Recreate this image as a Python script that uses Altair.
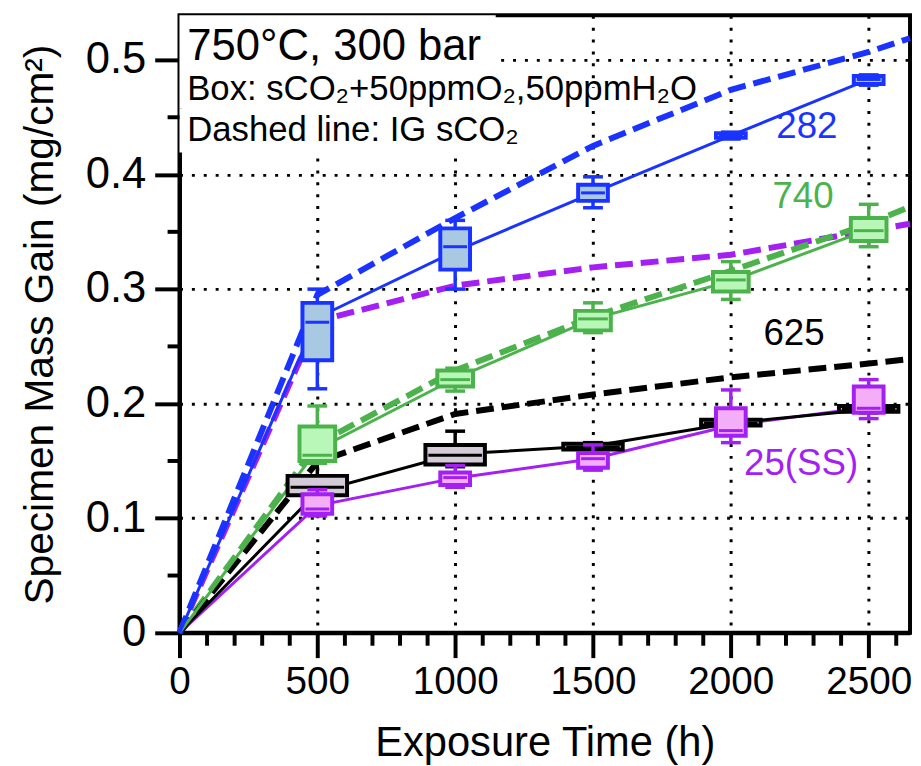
import altair as alt
import pandas as pd

FONT = "Liberation Sans"

# ---------------- data ----------------
series = ["282", "740", "625", "25(SS)"]
colors = ["#1a33ff", "#4cb34c", "#000000", "#a31ff2"]
fills = ["#a9c9e2", "#b9f7b9", "#d4cad8", "#f3aef7"]
box_width = [30, 36, 60, 30]
median_width = [24, 30, 54, 24]

times = [500, 1000, 1500, 2000, 2500]

# box statistics (whisker low, q1, median, q3, whisker high)
b282_wlo = [0.213, 0.300, 0.371, 0.431, 0.478]
b282_q1 = [0.238, 0.317, 0.377, 0.432, 0.479]
b282_med = [0.271, 0.337, 0.384, 0.434, 0.483]
b282_q3 = [0.288, 0.353, 0.391, 0.436, 0.486]
b282_whi = [0.300, 0.360, 0.398, 0.437, 0.487]

b740_wlo = [0.148, 0.211, 0.262, 0.291, 0.337]
b740_q1 = [0.150, 0.215, 0.264, 0.298, 0.342]
b740_med = [0.155, 0.221, 0.274, 0.308, 0.351]
b740_q3 = [0.180, 0.229, 0.281, 0.315, 0.362]
b740_whi = [0.198, 0.231, 0.288, 0.324, 0.374]

b625_wlo = [0.117, 0.145, 0.158, 0.180, 0.192]
b625_q1 = [0.120, 0.147, 0.160, 0.181, 0.193]
b625_med = [0.127, 0.155, 0.162, 0.183, 0.195]
b625_q3 = [0.137, 0.164, 0.165, 0.186, 0.198]
b625_whi = [0.150, 0.176, 0.166, 0.187, 0.199]

b25_wlo = [0.102, 0.127, 0.142, 0.166, 0.187]
b25_q1 = [0.104, 0.129, 0.144, 0.172, 0.192]
b25_med = [0.108, 0.1355, 0.152, 0.1765, 0.196]
b25_q3 = [0.121, 0.140, 0.157, 0.196, 0.215]
b25_whi = [0.125, 0.146, 0.164, 0.212, 0.221]

# solid connecting lines (start at origin)
line_times = [0, 500, 1000, 1500, 2000, 2500]
line_282 = [0, 0.275, 0.333, 0.384, 0.434, 0.483]
line_740 = [0, 0.160, 0.222, 0.274, 0.307, 0.352]
line_625 = [0, 0.123, 0.156, 0.163, 0.183, 0.195]
line_25 = [0, 0.111, 0.135, 0.152, 0.181, 0.197]

# dashed lines: IG sCO2
dash_times = [0, 500, 1000, 1500, 2000, 2500, 2650]
dash_282 = [0, 0.295, 0.362, 0.425, 0.474, 0.507, 0.519]
dash_740 = [0, 0.165, 0.229, 0.276, 0.316, 0.357, 0.372]
dash_625 = [0, 0.149, 0.191, 0.208, 0.223, 0.235, 0.239]
dash_25 = [0, 0.272, 0.303, 0.319, 0.330, 0.351, 0.357]

# axis ticks
x_major = [0, 500, 1000, 1500, 2000, 2500]
x_minor = [100, 200, 300, 400, 600, 700, 800, 900, 1100, 1200, 1300, 1400,
           1600, 1700, 1800, 1900, 2100, 2200, 2300, 2400, 2600]
y_major = [0, 0.1, 0.2, 0.3, 0.4, 0.5]
y_minor = [0.05, 0.15, 0.25, 0.35, 0.45]

# annotations
header_text = ["750°C, 300 bar", "Box: sCO₂+50ppmO₂,50ppmH₂O", "Dashed line: IG sCO₂"]
header_x = [28, 28, 28]
header_y = [0.4997, 0.4652, 0.4289]
# opaque text-box extents behind the header lines (data units)
header_bg_x2 = [1147, 1909, 1363]
header_bg_ytop = [0.539, 0.4756, 0.4574]
header_bg_ybot = [0.4756, 0.4574, 0.4193]
label_x = [2276, 2262, 2229, 2255]
label_y = [0.4418, 0.3804, 0.2611, 0.147]

# ---------------- scales / axes ----------------
xs = alt.Scale(domain=[0, 2650], nice=False, zero=False, padding=0)
ys = alt.Scale(domain=[0, 0.539], nice=False, zero=False, padding=0)

xaxis = alt.Axis(values=x_major, format="d", tickSize=25, tickWidth=4, tickColor="black",
                 labelFontSize=39, labelFont=FONT, labelColor="black", labelPadding=5,
                 labelFlush=False, labelOverlap=False,
                 domainColor="black", domainWidth=4,
                 grid=True, gridColor="black", gridDash=[3, 9], gridWidth=3, gridOpacity=1,
                 titleFontSize=42, titleFont=FONT, titleFontWeight="normal", titleColor="black",
                 titlePadding=22)
yaxis = alt.Axis(values=y_major, labelExpr="datum.value == 0 ? '0' : format(datum.value, '.1f')",
                 tickSize=25, tickWidth=4, tickColor="black",
                 labelFontSize=44, labelFont=FONT, labelColor="black", labelPadding=9,
                 labelFlush=False, labelOverlap=False,
                 domainColor="black", domainWidth=4,
                 grid=True, gridColor="black", gridDash=[3, 9], gridWidth=3, gridOpacity=1,
                 titleFontSize=41, titleFont=FONT, titleFontWeight="normal", titleColor="black",
                 titlePadding=24)


def X(field):
    return alt.X(f"{field}:Q", scale=xs, axis=xaxis, title="Exposure Time (h)")


def Y(field):
    return alt.Y(f"{field}:Q", scale=ys, axis=yaxis, title="Specimen Mass Gain (mg/cm²)")


box_stats = {
    "282": (b282_wlo, b282_q1, b282_med, b282_q3, b282_whi),
    "740": (b740_wlo, b740_q1, b740_med, b740_q3, b740_whi),
    "625": (b625_wlo, b625_q1, b625_med, b625_q3, b625_whi),
    "25(SS)": (b25_wlo, b25_q1, b25_med, b25_q3, b25_whi),
}
lines = {"282": line_282, "740": line_740, "625": line_625, "25(SS)": line_25}
dashes = {"282": dash_282, "740": dash_740, "625": dash_625, "25(SS)": dash_25}
style = {s: (c, f, bw, mw) for s, c, f, bw, mw in zip(series, colors, fills, box_width, median_width)}

layers = []

# white backgrounds of the header text boxes
bgdf = pd.DataFrame({"x1": [0, 0, 0], "x2": header_bg_x2, "y1": header_bg_ybot, "y2": header_bg_ytop})
layers.append(alt.Chart(bgdf).mark_rect(color="white", opacity=1)
              .encode(x=X("x1"), x2=alt.X2("x2:Q"), y=Y("y1"), y2=alt.Y2("y2:Q")))

# dashed lines
for s in ["25(SS)", "740", "625", "282"]:
    df = pd.DataFrame({"t": dash_times, "v": dashes[s]})
    layers.append(alt.Chart(df).mark_line(color=style[s][0], strokeWidth=6, strokeDash=[18, 8])
                  .encode(x=X("t"), y=Y("v")))

# solid lines
for s in ["25(SS)", "625", "740", "282"]:
    df = pd.DataFrame({"t": line_times, "v": lines[s]})
    layers.append(alt.Chart(df).mark_line(color=style[s][0], strokeWidth=3)
                  .encode(x=X("t"), y=Y("v")))

# boxes
for s in ["625", "25(SS)", "740", "282"]:
    wlo, q1, med, q3, whi = box_stats[s]
    c, f, bw, mw = style[s]
    df = pd.DataFrame({"t": times, "wlo": wlo, "q1": q1, "med": med, "q3": q3, "whi": whi})
    base = alt.Chart(df)
    layers.append(base.mark_rule(color=c, strokeWidth=3.5)
                  .encode(x=X("t"), y=Y("wlo"), y2=alt.Y2("whi:Q")))
    layers.append(base.transform_fold(["wlo", "whi"], as_=["k", "cap"])
                  .mark_tick(color=c, orient="horizontal", size=20, thickness=3.5, opacity=1)
                  .encode(x=X("t"), y=Y("cap")))
    layers.append(base.mark_bar(size=bw, fill=f, stroke=c, strokeWidth=4)
                  .encode(x=X("t"), y=Y("q1"), y2=alt.Y2("q3:Q")))
    layers.append(base.mark_tick(color=c, orient="horizontal", size=mw, thickness=3, opacity=1)
                  .encode(x=X("t"), y=Y("med")))

# minor ticks
mx = pd.DataFrame({"mx": x_minor})
layers.append(alt.Chart(mx).mark_rule(color="black", strokeWidth=4)
              .encode(x=X("mx"), y=alt.value(623), y2=alt.value(636)))
my = pd.DataFrame({"my": y_minor})
layers.append(alt.Chart(my).mark_rule(color="black", strokeWidth=4)
              .encode(y=Y("my"), x=alt.value(0), x2=alt.value(-12)))

# header text
hdf = pd.DataFrame({"x": header_x, "y": header_y, "txt": header_text})
layers.append(alt.Chart(hdf.iloc[[0]]).mark_text(align="left", baseline="alphabetic", fontSize=44,
                                                  font=FONT, color="black")
              .encode(x=X("x"), y=Y("y"), text="txt:N"))
layers.append(alt.Chart(hdf.iloc[1:]).mark_text(align="left", baseline="alphabetic", fontSize=35,
                                                font=FONT, color="black")
              .encode(x=X("x"), y=Y("y"), text="txt:N"))

# series labels
for s, lx, ly in zip(series, label_x, label_y):
    ldf = pd.DataFrame({"x": [lx], "y": [ly], "txt": [s]})
    layers.append(alt.Chart(ldf).mark_text(align="center", baseline="middle", fontSize=37,
                                           font=FONT, color=style[s][0])
                  .encode(x=X("x"), y=Y("y"), text="txt:N"))

chart = alt.layer(*layers).properties(
    width=737, height=623,
    background="white",
    padding={"left": 173, "top": 4, "right": 3, "bottom": 131},
    autosize=alt.AutoSizeParams(type="none"),
).configure_view(stroke="black", strokeWidth=4)

chart.save("out.html", embed_options={"renderer": "svg", "actions": False})
